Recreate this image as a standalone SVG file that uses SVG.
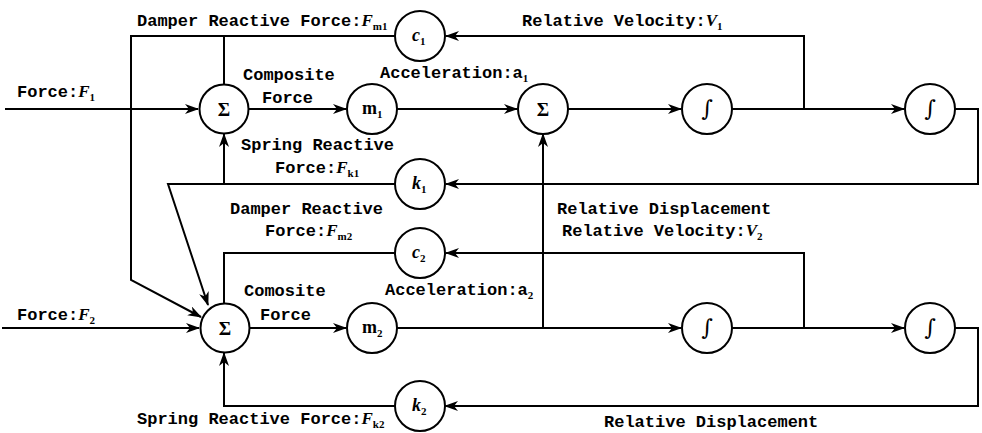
<svg xmlns="http://www.w3.org/2000/svg" width="982" height="433" viewBox="0 0 982 433">
<style>
.t{font-family:"Liberation Mono",monospace;font-size:17px;font-weight:bold;fill:#000}
.v{font-family:"Liberation Serif",serif;font-style:italic;font-weight:bold}
.s{font-family:"Liberation Serif",serif;font-size:11px;font-weight:bold;font-style:normal}
.c{fill:#fff;stroke:#000;stroke-width:2}
.l{fill:none;stroke:#000;stroke-width:2}
.n{font-family:"Liberation Serif",serif;font-size:19px;font-weight:bold;text-anchor:middle}
.ni{font-family:"Liberation Serif",serif;font-size:18px;font-weight:bold;font-style:italic}
.nm{font-family:"Liberation Serif",serif;font-size:18px;font-weight:bold;font-style:normal}
.ig{font-family:"DejaVu Serif",serif;font-size:22px;font-style:italic;text-anchor:middle}
</style>
<defs>
<marker id="a" markerUnits="userSpaceOnUse" markerWidth="14" markerHeight="10" refX="13" refY="5" orient="auto">
<path d="M0,0 L14,5 L0,10 L4,5 Z" fill="#000"/>
</marker>
</defs>
<rect width="982" height="433" fill="#fff"/>
<g id="connectors" class="l">
<path d="M5,109 H198" marker-end="url(#a)"/>
<path d="M249,109 H346" marker-end="url(#a)"/>
<path d="M397,109 H517" marker-end="url(#a)"/>
<path d="M568,109 H681" marker-end="url(#a)"/>
<path d="M732,109 H904" marker-end="url(#a)"/>
<path d="M955,109 H978 V184 H446" marker-end="url(#a)"/>
<path d="M804,109 V36 H446" marker-end="url(#a)"/>
<path d="M395,36 H131 V280 L201,317" marker-end="url(#a)"/>
<path d="M224,36 V85"/>
<path d="M395,184 H168 L208,305" marker-end="url(#a)"/>
<path d="M224,184 V134" marker-end="url(#a)"/>
<path d="M2,328 H199" marker-end="url(#a)"/>
<path d="M250,328 H346" marker-end="url(#a)"/>
<path d="M397,328 H681" marker-end="url(#a)"/>
<path d="M732,328 H904" marker-end="url(#a)"/>
<path d="M543,328 V134" marker-end="url(#a)"/>
<path d="M804,328 V253 H446" marker-end="url(#a)"/>
<path d="M955,328 H978 V406 H445" marker-end="url(#a)"/>
<path d="M395,253 H224 V304"/>
<path d="M396,406 H224 V353" marker-end="url(#a)"/>
</g>
<g id="sum1"><circle class="c" cx="224" cy="109" r="24.5"/><text class="n" x="224" y="116">Σ</text></g>
<g id="m1"><circle class="c" cx="372" cy="109" r="25"/><text class="nm" x="362" y="114">m<tspan class="s" dy="4">1</tspan></text></g>
<g id="sum_mid"><circle class="c" cx="543" cy="109" r="25"/><text class="n" x="543" y="116">Σ</text></g>
<g id="int1"><circle class="c" cx="707" cy="109" r="25"/><text class="ig" x="707" y="116">∫</text></g>
<g id="int2"><circle class="c" cx="930" cy="109" r="25"/><text class="ig" x="930" y="116">∫</text></g>
<g id="c1"><circle class="c" cx="420" cy="36" r="25"/><text class="ni" x="412" y="41">c<tspan class="s" dy="4">1</tspan></text></g>
<g id="k1"><circle class="c" cx="420" cy="184" r="25"/><text class="ni" x="412" y="189">k<tspan class="s" dy="4">1</tspan></text></g>
<g id="c2"><circle class="c" cx="420" cy="253" r="25"/><text class="ni" x="412" y="258">c<tspan class="s" dy="4">2</tspan></text></g>
<g id="sum2"><circle class="c" cx="225" cy="328" r="24.5"/><text class="n" x="225" y="335">Σ</text></g>
<g id="m2"><circle class="c" cx="372" cy="328" r="25"/><text class="nm" x="362" y="333">m<tspan class="s" dy="4">2</tspan></text></g>
<g id="int3"><circle class="c" cx="707" cy="328" r="25"/><text class="ig" x="707" y="335">∫</text></g>
<g id="int4"><circle class="c" cx="930" cy="328" r="25"/><text class="ig" x="930" y="335">∫</text></g>
<g id="k2"><circle class="c" cx="420" cy="406" r="25"/><text class="ni" x="412" y="411">k<tspan class="s" dy="4">2</tspan></text></g>
<g id="labels">
<text class="t" x="137" y="26">Damper Reactive Force:<tspan class="v">F</tspan><tspan class="s" dy="4">m1</tspan></text>
<text class="t" x="522" y="26">Relative Velocity:<tspan class="v">V</tspan><tspan class="s" dy="4">1</tspan></text>
<text class="t" x="17" y="97">Force:<tspan class="v">F</tspan><tspan class="s" dy="4">1</tspan></text>
<text class="t" x="243" y="80">Composite</text>
<text class="t" x="262" y="103">Force</text>
<text class="t" x="380" y="78">Acceleration:a<tspan class="s" dy="4">1</tspan></text>
<text class="t" x="241" y="150">Spring Reactive</text>
<text class="t" x="275" y="173">Force:<tspan class="v">F</tspan><tspan class="s" dy="4">k1</tspan></text>
<text class="t" x="230" y="214">Damper Reactive</text>
<text class="t" x="265" y="236">Force:<tspan class="v">F</tspan><tspan class="s" dy="4">m2</tspan></text>
<text class="t" x="557" y="214">Relative Displacement</text>
<text class="t" x="562" y="236">Relative Velocity:<tspan class="v">V</tspan><tspan class="s" dy="4">2</tspan></text>
<text class="t" x="244" y="296">Comosite</text>
<text class="t" x="260" y="320">Force</text>
<text class="t" x="385" y="295">Acceleration:a<tspan class="s" dy="4">2</tspan></text>
<text class="t" x="17" y="320">Force:<tspan class="v">F</tspan><tspan class="s" dy="4">2</tspan></text>
<text class="t" x="137" y="424">Spring Reactive Force:<tspan class="v">F</tspan><tspan class="s" dy="4">k2</tspan></text>
<text class="t" x="604" y="427">Relative Displacement</text>
</g>
</svg>
